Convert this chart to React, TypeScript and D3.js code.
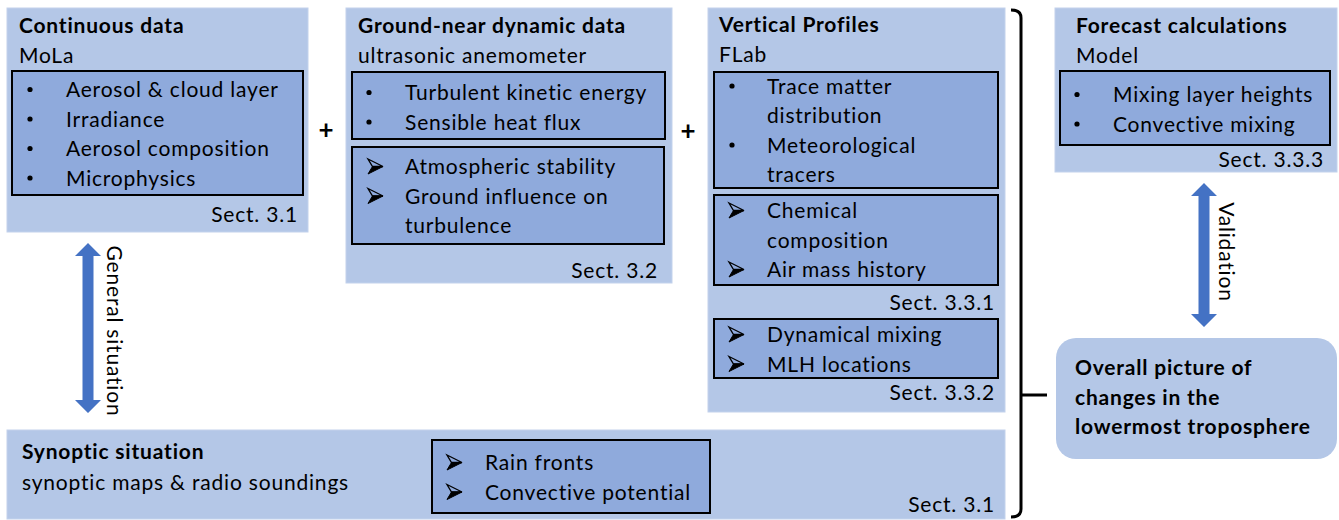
import React from "react";
import * as d3 from "d3";

const FONT = "Lato, 'Open Sans', sans-serif";
const OUTER = "#B4C7E7";
const INNER = "#8FAADC";
const ARROW = "#4472C4";
const FS = 21;
const LS = 0.8;
const LH = 29.5;

// Text content
const box1Title = "Continuous data";
const box1Sub = "MoLa";
const box1Items = [["Aerosol & cloud layer"], ["Irradiance"], ["Aerosol composition"], ["Microphysics"]];
const box2Title = "Ground-near dynamic data";
const box2Sub = "ultrasonic anemometer";
const box2ItemsA = [["Turbulent kinetic energy"], ["Sensible heat flux"]];
const box2ItemsB = [["Atmospheric stability"], ["Ground influence on", "turbulence"]];
const box3Title = "Vertical Profiles";
const box3Sub = "FLab";
const box3ItemsA = [["Trace matter", "distribution"], ["Meteorological", "tracers"]];
const box3ItemsB = [["Chemical", "composition"], ["Air mass history"]];
const box3ItemsC = [["Dynamical mixing"], ["MLH locations"]];
const box4Title = "Forecast calculations";
const box4Sub = "Model";
const box4Items = [["Mixing layer heights"], ["Convective mixing"]];
const synTitle = "Synoptic situation";
const synSub = "synoptic maps & radio soundings";
const synItems = [["Rain fronts"], ["Convective potential"]];
const overallLines = ["Overall picture of", "changes in the", "lowermost troposphere"];
const sections = ["Sect. 3.1", "Sect. 3.2", "Sect. 3.3.1", "Sect. 3.3.2", "Sect. 3.3.3", "Sect. 3.1"];
const arrowLabels = ["General situation", "Validation"];

type TP = { x: number; y: number; children: React.ReactNode; bold?: boolean; anchor?: string; size?: number; ls?: number };
const T = ({ x, y, children, bold, anchor, size, ls }: TP) => (
  <text x={x} y={y} fontFamily={FONT} fontSize={size ?? FS} fontWeight={bold ? 700 : 400} letterSpacing={ls ?? LS} textAnchor={anchor ?? "start"} fill="#000">
    {children}
  </text>
);

const Dot = ({ x, y }: { x: number; y: number }) => <circle cx={x} cy={y - 7.5} r={2.6} fill="#000" />;

const ArrowBullet = ({ x, y }: { x: number; y: number }) => {
  const cy = y - 7.5;
  return (
    <g transform={`translate(${x},${cy - 7.5})`}>
      <path d="M0,0 L15,7.5 L4.5,7.5 Z" fill="none" stroke="#000" strokeWidth={1.3} strokeLinejoin="miter" />
      <path d="M4.5,7.5 L15,7.5 L0,15 Z" fill="#000" stroke="#000" strokeWidth={1} />
    </g>
  );
};

type ListP = { items: string[][]; bx: number; tx: number; y0: number; kind: "dot" | "arrow" };
const List = ({ items, bx, tx, y0, kind }: ListP) => {
  let k = 0;
  const out: React.ReactNode[] = [];
  items.forEach((lines, i) => {
    const y = y0 + k * LH;
    out.push(kind === "dot" ? <Dot key={"b" + i} x={bx} y={y} /> : <ArrowBullet key={"b" + i} x={bx} y={y} />);
    lines.forEach((l, j) => {
      out.push(<T key={`t${i}-${j}`} x={tx} y={y0 + (k + j) * LH}>{l}</T>);
    });
    k += lines.length;
  });
  return <g>{out}</g>;
};

const Outer = ({ x0, y0, x1, y1 }: { x0: number; y0: number; x1: number; y1: number }) => (
  <rect x={x0} y={y0} width={x1 - x0} height={y1 - y0} fill={OUTER} stroke="#C3D2EC" strokeWidth={1} />
);
const Inner = ({ x0, y0, x1, y1 }: { x0: number; y0: number; x1: number; y1: number }) => (
  <rect x={x0} y={y0} width={x1 - x0} height={y1 - y0} fill={INNER} stroke="#000" strokeWidth={2} />
);

const DoubleArrow = ({ cx, y0, y1 }: { cx: number; y0: number; y1: number }) => {
  const sw = 5.5, hw = 13, hl = 13;
  const pts: [number, number][] = [
    [cx, y0], [cx + hw, y0 + hl], [cx + sw, y0 + hl], [cx + sw, y1 - hl], [cx + hw, y1 - hl],
    [cx, y1], [cx - hw, y1 - hl], [cx - sw, y1 - hl], [cx - sw, y0 + hl], [cx - hw, y0 + hl],
  ];
  const line = d3.line();
  return <path d={line(pts)! + "Z"} fill={ARROW} />;
};

export default function App() {
  return (
    <svg width={1339} height={520} style={{ position: "fixed", left: 0, top: 0, background: "#fff" }}>
      {/* Box 1 */}
      <Outer x0={7} y0={8} x1={308} y1={232} />
      <T x={19} y={33} bold>{box1Title}</T>
      <T x={19} y={63}>{box1Sub}</T>
      <Inner x0={12} y0={71} x1={303} y1={195} />
      <List items={box1Items} bx={30} tx={66} y0={97} kind="dot" />
      <T x={298} y={222} anchor="end">{sections[0]}</T>

      {/* Plus signs */}
      <T x={326} y={139} bold anchor="middle" size={26} ls={0}>+</T>
      <T x={688} y={140} bold anchor="middle" size={26} ls={0}>+</T>

      {/* Box 2 */}
      <Outer x0={346} y0={8} x1={672} y1={283} />
      <T x={358} y={33} bold>{box2Title}</T>
      <T x={358} y={63}>{box2Sub}</T>
      <Inner x0={352} y0={72} x1={665} y1={139} />
      <List items={box2ItemsA} bx={369} tx={405} y0={100} kind="dot" />
      <Inner x0={352} y0={147} x1={664} y1={244} />
      <List items={box2ItemsB} bx={368} tx={405} y0={174} kind="arrow" />
      <T x={658} y={278} anchor="end">{sections[1]}</T>

      {/* Box 3 */}
      <Outer x0={708} y0={8} x1={1005} y1={412} />
      <T x={719} y={32} bold>{box3Title}</T>
      <T x={719} y={62}>{box3Sub}</T>
      <Inner x0={714} y0={72} x1={998} y1={188} />
      <List items={box3ItemsA} bx={732} tx={767} y0={93.5} kind="dot" />
      <Inner x0={714} y0={195} x1={998} y1={285} />
      <List items={box3ItemsB} bx={729} tx={767} y0={218} kind="arrow" />
      <T x={995} y={310} anchor="end">{sections[2]}</T>
      <Inner x0={714} y0={319} x1={998} y1={378} />
      <List items={box3ItemsC} bx={729} tx={767} y0={342} kind="arrow" />
      <T x={995} y={400} anchor="end">{sections[3]}</T>

      {/* Brace */}
      <path d="M1011,10 Q1021,10 1021,18 L1021,509 Q1021,517 1011,517" fill="none" stroke="#000" strokeWidth={3} />
      <path d="M1021,395 L1047,395" fill="none" stroke="#000" strokeWidth={3} />

      {/* Box 4 */}
      <Outer x0={1055} y0={8} x1={1337} y1={172} />
      <T x={1076} y={33} bold>{box4Title}</T>
      <T x={1076} y={63}>{box4Sub}</T>
      <Inner x0={1060} y0={71} x1={1330} y1={145} />
      <List items={box4Items} bx={1077} tx={1113} y0={102} kind="dot" />
      <T x={1324} y={167} anchor="end">{sections[4]}</T>

      {/* Validation arrow */}
      <DoubleArrow cx={1204} y0={183} y1={327} />
      <text x={1227} y={252} fontFamily={FONT} fontSize={FS} letterSpacing={LS} textAnchor="middle" dominantBaseline="central" transform="rotate(90,1227,252)">
        {arrowLabels[1]}
      </text>

      {/* Overall box */}
      <rect x={1056} y={338} width={281} height={121} rx={20} ry={20} fill={OUTER} />
      {overallLines.map((l, i) => (
        <T key={l} x={1075} y={375 + i * LH} bold>{l}</T>
      ))}

      {/* General situation arrow */}
      <DoubleArrow cx={88} y0={243} y1={413} />
      <text x={115} y={331} fontFamily={FONT} fontSize={FS} letterSpacing={LS} textAnchor="middle" dominantBaseline="central" transform="rotate(90,115,331)">
        {arrowLabels[0]}
      </text>

      {/* Synoptic box */}
      <Outer x0={7} y0={430} x1={1005} y1={519} />
      <T x={22} y={459} bold>{synTitle}</T>
      <T x={22} y={490}>{synSub}</T>
      <Inner x0={432} y0={440} x1={710} y1={513} />
      <List items={synItems} bx={447} tx={485} y0={470} kind="arrow" />
      <T x={995} y={512} anchor="end">{sections[5]}</T>
    </svg>
  );
}
